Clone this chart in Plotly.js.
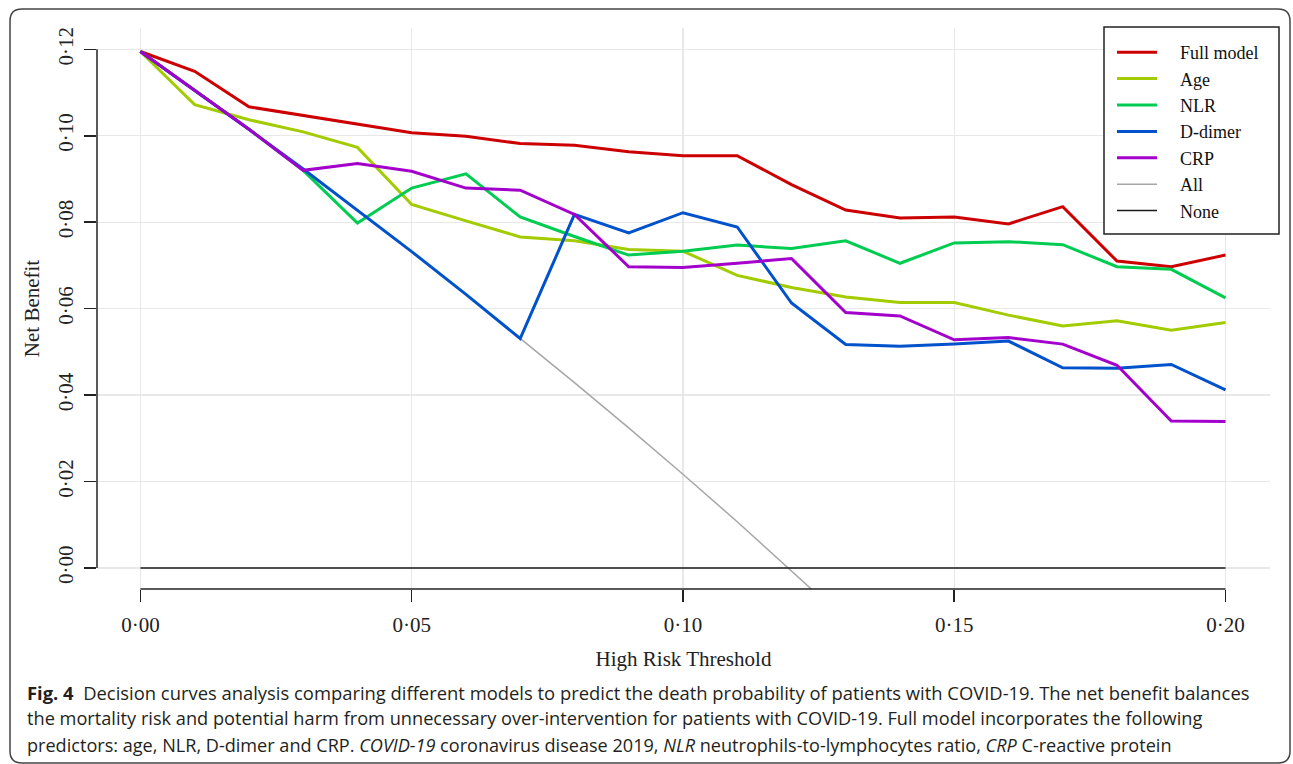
<!DOCTYPE html>
<html>
<head>
<meta charset="utf-8">
<script src="https://cdn.plot.ly/plotly-3.0.1.min.js"></script>
<style>
html,body{margin:0;padding:0;background:#fff;}
#chart{width:1293px;height:764px;}
</style>
</head>
<body>
<div id="chart"></div>
<script>
// thresholds
const thresholds = [0.00,0.01,0.02,0.03,0.04,0.05,0.06,0.07,0.08,0.09,0.10,0.11,0.12,0.13,0.14,0.15,0.16,0.17,0.18,0.19,0.20];
const fullModel = [0.1195,0.1149,0.1067,0.1047,0.1027,0.1007,0.0999,0.0982,0.0978,0.0963,0.0954,0.0954,0.0887,0.0828,0.0810,0.0812,0.0796,0.0836,0.0710,0.0697,0.0724];
const age       = [0.1195,0.1072,0.1037,0.1009,0.0973,0.0841,0.0803,0.0766,0.0757,0.0737,0.0733,0.0677,0.0649,0.0627,0.0614,0.0614,0.0585,0.0560,0.0572,0.0550,0.0568];
const nlr       = [0.1195,0.1106,0.1015,0.0920,0.0798,0.0879,0.0912,0.0812,0.0767,0.0724,0.0733,0.0747,0.0739,0.0757,0.0705,0.0752,0.0755,0.0748,0.0697,0.0691,0.0625];
const dDimer    = [0.1195,0.1106,0.1015,0.0923,0.0828,0.0732,0.0633,0.0531,0.0818,0.0775,0.0822,0.0789,0.0613,0.0517,0.0513,0.0518,0.0525,0.0463,0.0462,0.0471,0.0412];
const crp       = [0.1195,0.1106,0.1015,0.0920,0.0936,0.0918,0.0879,0.0874,0.0818,0.0697,0.0695,0.0705,0.0716,0.0591,0.0583,0.0528,0.0533,0.0518,0.0469,0.0340,0.0339];
const allThresholds = [0.00,0.01,0.02,0.03,0.04,0.05,0.06,0.07,0.08,0.09,0.10,0.11,0.12,0.13];
const allTreat  = [0.1195,0.1106,0.1015,0.0923,0.0828,0.0732,0.0633,0.0532,0.0429,0.0324,0.0217,0.0107,-0.0006,-0.0121];
const noneTreat = [0,0,0,0,0,0,0,0,0,0,0,0,0,0,0,0,0,0,0,0,0];

const seriesNames = ["Full model","Age","NLR","D-dimer","CRP","All","None"];

const xTickVals = [0,0.05,0.10,0.15,0.20];
const xTickText = ["0·00","0·05","0·10","0·15","0·20"];
const yTickVals = [0,0.02,0.04,0.06,0.08,0.10,0.12];
const yTickText = ["0·00","0·02","0·04","0·06","0·08","0·10","0·12"];

const captionLines = [
  "<b>Fig. 4</b>\u00a0\u00a0Decision curves analysis comparing different models to predict the death probability of patients with COVID-19. The net benefit balances",
  "the mortality risk and potential harm from unnecessary over-intervention for patients with COVID-19. Full model incorporates the following",
  "predictors: age, NLR, D-dimer and CRP. <i>COVID-19</i> coronavirus disease 2019, <i>NLR</i> neutrophils-to-lymphocytes ratio, <i>CRP</i> C-reactive protein"
];

// geometry of plot area in px
const W = 1293, H = 764;
const L = 97, R = 1270, T = 28, B = 589;
const PW = R - L, PH = B - T;
const X = px => (px - L) / PW;
const Y = py => (B - py) / PH;

const serif = "Liberation Serif, Times New Roman, serif";
const pad = "\u00a0\u00a0\u00a0\u00a0";

const traces = [
  {x: allThresholds, y: allTreat, name: pad + seriesNames[5], mode: "lines", line: {color: "#a6a6a6", width: 1.5}, legendrank: 6},
  {x: thresholds, y: noneTreat, name: pad + seriesNames[6], mode: "lines", line: {color: "#1a1a1a", width: 1.5}, legendrank: 7},
  {x: thresholds, y: fullModel, name: pad + seriesNames[0], mode: "lines", line: {color: "#cc0000", width: 3}, legendrank: 1},
  {x: thresholds, y: age, name: pad + seriesNames[1], mode: "lines", line: {color: "#a3cc00", width: 3}, legendrank: 2},
  {x: thresholds, y: nlr, name: pad + seriesNames[2], mode: "lines", line: {color: "#00cc52", width: 3}, legendrank: 3},
  {x: thresholds, y: dDimer, name: pad + seriesNames[3], mode: "lines", line: {color: "#0052cc", width: 3}, legendrank: 4},
  {x: thresholds, y: crp, name: pad + seriesNames[4], mode: "lines", line: {color: "#a300cc", width: 3}, legendrank: 5}
];

const r = 12;
const bx0 = 10, bx1 = 1290, by0 = 9, by1 = 763;
const borderPath =
  `M ${X(bx0)},${Y(by0 + r)} Q ${X(bx0)},${Y(by0)} ${X(bx0 + r)},${Y(by0)} ` +
  `L ${X(bx1 - r)},${Y(by0)} Q ${X(bx1)},${Y(by0)} ${X(bx1)},${Y(by0 + r)} ` +
  `L ${X(bx1)},${Y(by1 - r)} Q ${X(bx1)},${Y(by1)} ${X(bx1 - r)},${Y(by1)} ` +
  `L ${X(bx0 + r)},${Y(by1)} Q ${X(bx0)},${Y(by1)} ${X(bx0)},${Y(by1 - r)} Z`;

const captionY = [692, 718, 745];
const captionSize = [18.4, 18.2, 18.1];
const annotations = captionLines.map((t, i) => ({
  text: t, xref: "paper", yref: "paper", x: X(25), y: Y(captionY[i]),
  xanchor: "left", yanchor: "middle", showarrow: false, align: "left",
  font: {family: "Open Sans, Noto Sans, sans-serif", size: captionSize[i], color: "#231f20"}
}));

const layout = {
  width: W, height: H,
  margin: {l: L, r: W - R, t: T, b: H - B, pad: 0},
  paper_bgcolor: "#ffffff", plot_bgcolor: "#ffffff",
  showlegend: true,
  legend: {
    x: X(1112), y: Y(34), xanchor: "left", yanchor: "top",
    bgcolor: "rgba(0,0,0,0)", borderwidth: 0,
    font: {family: serif, size: 18, color: "#111"},
    itemwidth: 40, traceorder: "normal"
  },
  xaxis: {
    range: [-0.0080, 0.2082],
    tickvals: xTickVals, ticktext: xTickText,
    ticks: "outside", ticklen: 12, tickwidth: 1.5, tickcolor: "#222",
    showgrid: true, gridcolor: "#e8e8e8", gridwidth: 1.4,
    zeroline: false, showline: false,
    ticklabelstandoff: 5,
    tickfont: {family: serif, size: 21, color: "#222"},
    title: {text: "High Risk Threshold", font: {family: serif, size: 21, color: "#222"}, standoff: 15}
  },
  yaxis: {
    range: [-0.004858, 0.12493],
    tickvals: yTickVals, ticktext: yTickText, tickangle: -90,
    ticks: "outside", ticklen: 12, tickwidth: 1.5, tickcolor: "#222",
    showgrid: true, gridcolor: "#e8e8e8", gridwidth: 1.4,
    zeroline: false, showline: false,
    ticklabelstandoff: 3,
    tickfont: {family: serif, size: 21, color: "#222"},
    title: {text: "Net Benefit", font: {family: serif, size: 21, color: "#222"}, standoff: 8}
  },
  shapes: [
    {type: "line", xref: "paper", yref: "y", x0: 0, x1: 0, y0: 0, y1: 0.12, line: {color: "#222", width: 1.5}},
    {type: "line", xref: "x", yref: "paper", x0: 0, x1: 0.2, y0: 0, y1: 0, line: {color: "#222", width: 1.5}},
    {type: "rect", xref: "paper", yref: "paper", x0: X(1104), x1: X(1279), y0: Y(234), y1: Y(27),
     fillcolor: "#ffffff", line: {color: "#222", width: 1.5}, layer: "above"},
    {type: "path", xref: "paper", yref: "paper", path: borderPath, line: {color: "#444", width: 1.5}, layer: "above"}
  ],
  annotations: annotations
};

Plotly.newPlot("chart", traces, layout, {displayModeBar: false, staticPlot: true});
</script>
</body>
</html>
